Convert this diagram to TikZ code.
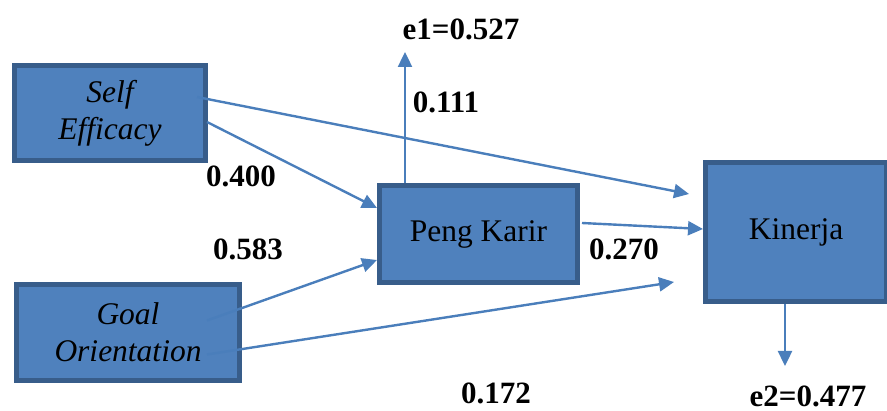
\documentclass[tikz,border=0pt]{standalone}
\usepackage{fontspec}
\setmainfont{Liberation Serif}
\usetikzlibrary{arrows.meta,calc}
\definecolor{boxfill}{HTML}{4F81BD}
\definecolor{boxedge}{HTML}{385D8A}
\definecolor{linkcol}{HTML}{4A7EBB}
\tikzset{
  varbox/.style={draw=boxedge, fill=boxfill, line width=5pt, inner sep=0pt, align=center,
    font=\fontsize{31.5}{37}\selectfont},
  link/.style={draw=linkcol, line width=2.4pt, -{Triangle[length=15pt,width=14pt]}},
  coef/.style={inner sep=0pt, font=\fontsize{31}{36}\selectfont\bfseries}
}
\begin{document}
\begin{tikzpicture}[x=1pt,y=-1pt]
\useasboundingbox (0,0) rectangle (887,411);
% boxes
\node[varbox, minimum width=191pt, minimum height=95pt] (se) at (110,113) {\itshape Self\\\itshape Efficacy};
\node[varbox, minimum width=223pt, minimum height=96pt] (go) at (128,332.5) {\itshape Goal\\\itshape Orientation};
\node[varbox, minimum width=198pt, minimum height=97pt] (pk) at (478.5,234) {Peng Karir};
\node[varbox, minimum width=181pt, minimum height=139pt] (ki) at (796,232) {Kinerja};
% connector ends
\coordinate (se1) at ($(se.east)+(-11,-16)$);
\coordinate (se2) at ($(se.east)+(-1,9)$);
\coordinate (go1) at ($(go.east)+(-35,-12)$);
\coordinate (go2) at ($(go.east)+(-35,22)$);
\coordinate (pk1) at ($(pk.east)+(2,-11)$);
\coordinate (pku) at (pk.north -| 405,0);
\coordinate (kit1) at ($(ki.west)+(-14,-38)$);
\coordinate (kit2) at ($(ki.west)+(0,-3)$);
\coordinate (kit3) at ($(ki.west)+(-29,50)$);
\coordinate (pkt1) at ($(pk.west)+(0,-26)$);
\coordinate (pkt2) at ($(pk.west)+(0,26)$);
\coordinate (kid) at (785,304);
\coordinate (e1end) at (405,52);
\coordinate (e2end) at (785,366);
% connectors
\draw[link] (se1) -- (kit1);
\draw[link] (se2) -- (pkt1);
\draw[link] (go1) -- (pkt2);
\draw[link] (go2) -- (kit3);
\draw[link] (pk1) -- (kit2);
\draw[link] (pku) -- (e1end);
\draw[link] (kid) -- (e2end);
% labels
\node[coef] (l400) at (241,176) {0.400};
\node[coef] (l583) at (248,249) {0.583};
\node[coef] (l270) at (624,249) {0.270};
\node[coef] (l172) at (496,393) {0.172};
\node[coef] (l111) at (446,102) {0.111};
\node[coef] (le1) at (461,29) {e1=0.527};
\node[coef] (le2) at (808,396) {e2=0.477};
\end{tikzpicture}
\end{document}
